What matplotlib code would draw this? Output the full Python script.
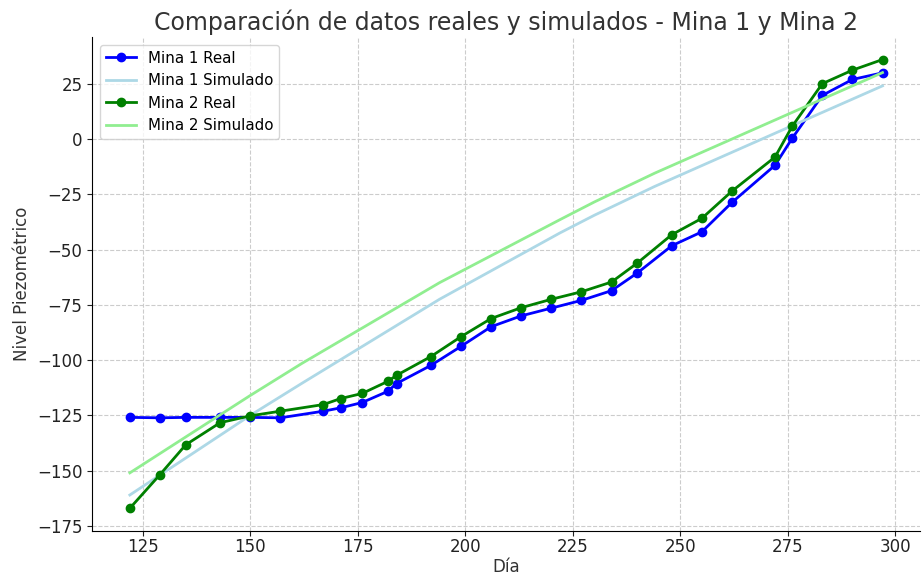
import matplotlib
matplotlib.use("Agg")
import matplotlib.pyplot as plt

# days with measurements
dias = [122, 129, 135, 143, 150, 157, 167, 171, 176, 182, 184, 192, 199,
        206, 213, 220, 227, 234, 240, 248, 255, 262, 272, 276, 283, 290, 297]

# real piezometric levels
mina1_real = [-125.9, -126.1, -125.9, -125.9, -125.9, -126.1, -123.1, -121.6, -119.2,
              -114.1, -110.6, -102.4, -93.8, -84.9, -80.0, -76.5, -73.0, -68.6,
              -60.6, -48.3, -42.0, -28.7, -11.9, 0.3, 19.7, 26.9, 29.9]
mina2_real = [-167.0, -151.8, -138.3, -128.3, -125.2, -123.1, -120.1, -117.4, -115.1,
              -109.6, -106.9, -98.4, -89.4, -81.2, -76.3, -72.5, -69.1, -64.7,
              -56.1, -43.3, -35.9, -23.6, -8.2, 5.7, 25.0, 31.1, 35.9]

# simulated curves
dias_sim = [122, 150, 162, 194, 222, 230, 244, 276, 297]
mina1_sim = [-161.0, -125.0, -110.5, -72.5, -42.5, -34.5, -21.5, 6.0, 24.0]
mina2_sim = [-151.0, -116.0, -101.5, -65.0, -36.5, -28.5, -15.5, 12.0, 30.0]

fig, ax = plt.subplots(figsize=(9.22, 5.8), dpi=100)
fig.subplots_adjust(left=0.1, right=0.998, top=0.936, bottom=0.085)

ax.plot(dias, mina1_real, color="blue", marker="o", linewidth=2, markersize=6, label="Mina 1 Real")
ax.plot(dias_sim, mina1_sim, color="lightblue", linewidth=2, label="Mina 1 Simulado")
ax.plot(dias, mina2_real, color="green", marker="o", linewidth=2, markersize=6, label="Mina 2 Real")
ax.plot(dias_sim, mina2_sim, color="lightgreen", linewidth=2, label="Mina 2 Simulado")

ax.set_title("Comparación de datos reales y simulados - Mina 1 y Mina 2", fontsize=17,
             color="#333333", pad=5)
ax.set_xlabel("Día", fontsize=12, color="#333333", labelpad=1)
ax.set_ylabel("Nivel Piezométrico", fontsize=12, color="#333333")
ax.tick_params(labelsize=12, colors="#222222")
ax.tick_params(axis="x", pad=2)
ax.set_yticks([-175, -150, -125, -100, -75, -50, -25, 0, 25])

ax.grid(True, linestyle="--", color="#cccccc", linewidth=0.8)
ax.spines["top"].set_visible(False)
ax.spines["right"].set_visible(False)

ax.legend(loc="upper left", fontsize=10.8)

plt.savefig("out.png")
